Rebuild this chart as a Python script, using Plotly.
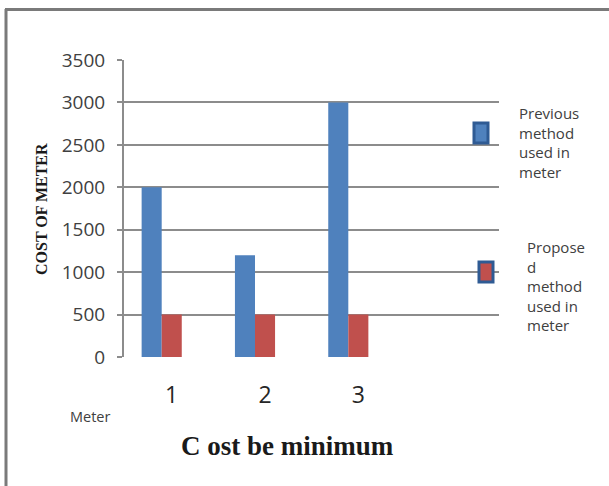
import plotly.graph_objects as go

# ---- data ----
categories = ["1", "2", "3"]
series_names = ["Previous<br>method<br>used in<br>meter", "Propose<br>d<br>method<br>used in<br>meter"]
previous_values = [2000, 1200, 3000]
proposed_values = [500, 500, 500]
y_ticks = [0, 500, 1000, 1500, 2000, 2500, 3000, 3500]

W, H = 609, 486
BLUE = "#4F81BD"
RED = "#C0504D"
GRID = "#8c8c8c"

def px_x(x):
    return x / W

def px_y(y):
    return 1 - y / H

fig = go.Figure()
fig.add_trace(go.Bar(x=categories, y=previous_values, marker=dict(color=BLUE, line=dict(width=0)),
                     name="Previous method used in meter", showlegend=False))
fig.add_trace(go.Bar(x=categories, y=proposed_values, marker=dict(color=RED, line=dict(width=0)),
                     name="Proposed method used in meter", showlegend=False))

fig.update_layout(
    width=W, height=H,
    margin=dict(l=0, r=0, t=0, b=0, autoexpand=False),
    showlegend=False,
    paper_bgcolor="white", plot_bgcolor="white",
    barmode="group", bargap=0.57, bargroupgap=0,
    xaxis=dict(
        domain=[px_x(124), px_x(499)],
        type="category",
        range=[-0.404, 3.615],
        automargin=False,
        showgrid=False, zeroline=False,
        showline=False,
        ticks="",
        tickfont=dict(family="Open Sans", size=23, color="#262626"),
        ticklabelstandoff=22,
        ticklabelshift=10,
    ),
    yaxis=dict(
        domain=[px_y(357), px_y(60)],
        range=[0, 3500],
        tickvals=y_ticks,
        automargin=False,
        showgrid=True, gridcolor=GRID, gridwidth=2,
        zeroline=False,
        showline=True, linecolor=GRID, linewidth=2,
        ticks="outside", ticklen=5, tickcolor=GRID, tickwidth=2,
        tickfont=dict(family="Open Sans", size=19, color="#404040"),
        ticklabelstandoff=8,
    ),
)

shapes = []
# outer frame (top and left only)
shapes.append(dict(type="line", xref="paper", yref="paper", x0=px_x(5), x1=1.0, y0=px_y(9.5), y1=px_y(9.5),
                   line=dict(color="#7a7a7a", width=3)))
shapes.append(dict(type="line", xref="paper", yref="paper", x0=px_x(6), x1=px_x(6), y0=px_y(9), y1=0,
                   line=dict(color="#7a7a7a", width=3)))
# legend markers
for (cx, cy, fill) in [(481, 133, BLUE), (486, 272, RED)]:
    shapes.append(dict(type="rect", xref="paper", yref="paper",
                       x0=px_x(cx - 7), x1=px_x(cx + 7), y0=px_y(cy + 10), y1=px_y(cy - 10),
                       fillcolor=fill, line=dict(color="#2f5b94", width=3)))
fig.update_layout(shapes=shapes)

def ann(text, x, y, xa, ya, font, angle=0, align="left"):
    return dict(text=text, x=px_x(x), y=px_y(y), xref="paper", yref="paper",
                xanchor=xa, yanchor=ya, textangle=angle, showarrow=False, align=align, font=font)

legend_font = dict(family="Open Sans", size=15, color="#404040")
annotations = [
    ann(series_names[0], 517, 101, "left", "top", legend_font),
    ann(series_names[1], 525, 235, "left", "top", legend_font),
    ann("Meter", 68, 416, "left", "middle", dict(family="Open Sans", size=14.5, color="#404040")),
    ann("<b>C ost be minimum</b>", 287, 446, "center", "middle",
        dict(family="Liberation Serif", size=27, color="#1a1a1a")),
    ann("<b>COST OF METER</b>", 41, 209, "center", "middle",
        dict(family="Liberation Serif", size=16, color="#1a1a1a"), angle=-90),
]
fig.update_layout(annotations=annotations)

fig.write_html("out.html", config={"displayModeBar": False},
               post_script="document.body.style.margin='0px';")
